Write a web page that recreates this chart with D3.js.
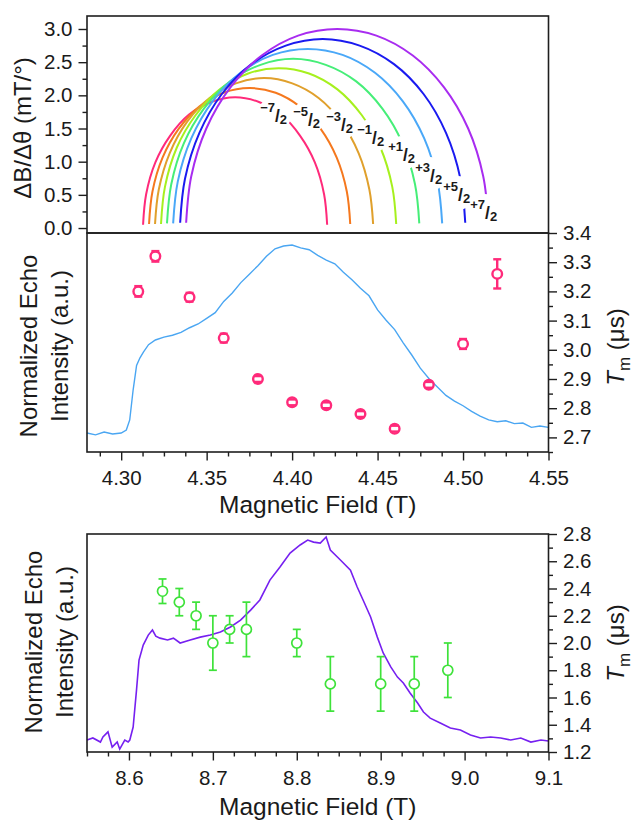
<!DOCTYPE html>
<html lang="en">
<head>
    <meta charset="UTF-8">
    <title>Angular dependence and echo-detected spectra</title>
    <script src="https://d3js.org/d3.v7.min.js"></script>
    <style>
        body {
            margin: 0;
            background: #fff;
        }
        svg text {
            font-family: Arial, "Liberation Sans", sans-serif;
            fill: #1a1a1a;
        }
    </style>
</head>
<body>
<svg id="chart" width="634" height="820"></svg>
<script>
    // ---- top panel: dB/dtheta for the eight transitions ----
    const arcLabelSign = ["\u2212", "\u2212", "\u2212", "\u2212", "+", "+", "+", "+"];
    const arcLabelNum = ["7", "5", "3", "1", "1", "3", "5", "7"];
    const arcColors = ["#ff2a7a", "#f5781e", "#e0a02c", "#a6f01e", "#46ee78", "#4aa8f8", "#1a1af0", "#a82cf0"];
    // label anchor (left edge, baseline) in field / slope units
    const labelField = [4.3813, 4.4006, 4.4199, 4.4381, 4.4562, 4.4720, 4.4884, 4.5042];
    const labelSlope = [1.598, 1.538, 1.462, 1.266, 1.010, 0.694, 0.407, 0.136];

    const arcFields = [
        [4.3128, 4.3146, 4.3200, 4.3286, 4.3397, 4.3527, 4.3667, 4.3806, 4.3936, 4.4047, 4.4133, 4.4187, 4.4205],
        [4.3163, 4.3183, 4.3242, 4.3335, 4.3457, 4.3599, 4.3752, 4.3904, 4.4046, 4.4168, 4.4261, 4.4320, 4.4340],
        [4.3198, 4.3220, 4.3284, 4.3385, 4.3517, 4.3671, 4.3836, 4.4001, 4.4155, 4.4287, 4.4389, 4.4452, 4.4474],
        [4.3233, 4.3256, 4.3325, 4.3435, 4.3577, 4.3743, 4.3921, 4.4099, 4.4265, 4.4408, 4.4517, 4.4586, 4.4609],
        [4.3268, 4.3293, 4.3367, 4.3484, 4.3637, 4.3815, 4.4006, 4.4197, 4.4375, 4.4528, 4.4645, 4.4719, 4.4744],
        [4.3304, 4.3331, 4.3410, 4.3535, 4.3698, 4.3887, 4.4091, 4.4295, 4.4485, 4.4648, 4.4773, 4.4851, 4.4878],
        [4.3345, 4.3373, 4.3457, 4.3589, 4.3762, 4.3963, 4.4179, 4.4395, 4.4596, 4.4769, 4.4901, 4.4985, 4.5013],
        [4.3380, 4.3410, 4.3498, 4.3639, 4.3822, 4.4035, 4.4264, 4.4493, 4.4706, 4.4889, 4.5030, 4.5118, 4.5148]
    ];
    const arcSlopes = [
        [0.05, 0.51, 0.99, 1.39, 1.71, 1.90, 1.97, 1.90, 1.71, 1.39, 0.99, 0.51, 0.05],
        [0.06, 0.55, 1.06, 1.49, 1.83, 2.04, 2.11, 2.04, 1.83, 1.49, 1.06, 0.55, 0.06],
        [0.06, 0.58, 1.13, 1.60, 1.96, 2.18, 2.26, 2.18, 1.96, 1.60, 1.13, 0.58, 0.06],
        [0.06, 0.62, 1.21, 1.70, 2.09, 2.33, 2.41, 2.33, 2.09, 1.70, 1.21, 0.62, 0.06],
        [0.07, 0.66, 1.28, 1.80, 2.21, 2.46, 2.55, 2.46, 2.21, 1.80, 1.28, 0.66, 0.07],
        [0.07, 0.70, 1.35, 1.91, 2.34, 2.61, 2.70, 2.61, 2.34, 1.91, 1.35, 0.70, 0.07],
        [0.08, 0.74, 1.43, 2.02, 2.47, 2.75, 2.85, 2.75, 2.47, 2.02, 1.43, 0.74, 0.08],
        [0.08, 0.78, 1.50, 2.12, 2.60, 2.90, 3.00, 2.90, 2.60, 2.12, 1.50, 0.78, 0.08]
    ];

    // ---- middle panel: echo spectrum + Tm ----
    const traceField1 = [4.280, 4.285, 4.290, 4.295, 4.300, 4.303, 4.305, 4.307, 4.309, 4.311, 4.313, 4.316,
        4.320, 4.325, 4.330, 4.335, 4.340, 4.345, 4.350, 4.355, 4.360, 4.365, 4.370, 4.375, 4.380, 4.385,
        4.390, 4.395, 4.400, 4.405, 4.410, 4.415, 4.420, 4.425, 4.430, 4.435, 4.440, 4.445, 4.450, 4.455,
        4.460, 4.465, 4.470, 4.475, 4.480, 4.485, 4.490, 4.495, 4.500, 4.505, 4.510, 4.515, 4.520, 4.525,
        4.530, 4.535, 4.540, 4.545, 4.550];
    const traceInt1 = [0.00, -0.01, 0.005, -0.005, 0.0, 0.016, 0.07, 0.23, 0.36, 0.40, 0.43, 0.47,
        0.495, 0.51, 0.52, 0.535, 0.56, 0.58, 0.61, 0.64, 0.70, 0.745, 0.80, 0.845, 0.89, 0.94,
        0.98, 0.995, 1.0, 0.985, 0.975, 0.945, 0.92, 0.90, 0.855, 0.815, 0.77, 0.73, 0.655, 0.60,
        0.55, 0.48, 0.415, 0.345, 0.29, 0.245, 0.20, 0.17, 0.145, 0.115, 0.09, 0.07, 0.06, 0.065,
        0.05, 0.053, 0.03, 0.037, 0.03];
    const tmField1 = [4.31, 4.32, 4.34, 4.36, 4.38, 4.40, 4.42, 4.44, 4.46, 4.48, 4.50, 4.52];
    const tmValue1 = [3.20, 3.32, 3.18, 3.04, 2.90, 2.82, 2.81, 2.78, 2.73, 2.88, 3.02, 3.26];
    const tmError1 = [0.018, 0.018, 0.015, 0.015, 0.01, 0.01, 0.01, 0.01, 0.01, 0.01, 0.017, 0.05];

    // ---- bottom panel: echo spectrum + Tm ----
    const traceField2 = [8.550, 8.557, 8.566, 8.569, 8.575, 8.580, 8.586, 8.589, 8.595, 8.599, 8.601, 8.605,
        8.609, 8.612, 8.617, 8.623, 8.628, 8.632, 8.637, 8.646, 8.653, 8.661, 8.673, 8.685, 8.697, 8.709,
        8.721, 8.733, 8.745, 8.756, 8.768, 8.780, 8.792, 8.804, 8.813, 8.820, 8.828, 8.835, 8.840, 8.852,
        8.864, 8.872, 8.879, 8.888, 8.896, 8.903, 8.912, 8.920, 8.927, 8.935, 8.944, 8.951, 8.959, 8.971,
        8.983, 8.995, 9.007, 9.019, 9.031, 9.043, 9.055, 9.067, 9.079, 9.091, 9.100];
    const traceInt2 = [0.00, 0.01, -0.01, 0.015, 0.04, -0.035, -0.01, -0.045, 0.00, -0.01, 0.00, 0.064,
        0.246, 0.394, 0.468, 0.517, 0.542, 0.512, 0.502, 0.493, 0.502, 0.478, 0.493, 0.507, 0.517, 0.532,
        0.557, 0.591, 0.640, 0.690, 0.788, 0.852, 0.921, 0.961, 0.985, 0.975, 0.970, 1.0, 0.936, 0.887,
        0.837, 0.754, 0.690, 0.606, 0.507, 0.429, 0.360, 0.310, 0.281, 0.232, 0.182, 0.138, 0.108, 0.084,
        0.059, 0.049, 0.025, 0.010, 0.015, 0.010, 0.000, 0.010, -0.010, 0.000, -0.005];
    const tmField2 = [8.64, 8.66, 8.68, 8.70, 8.72, 8.74, 8.80, 8.84, 8.90, 8.94, 8.98];
    const tmValue2 = [2.38, 2.30, 2.20, 2.00, 2.10, 2.10, 2.00, 1.70, 1.70, 1.70, 1.80];
    const tmError2 = [0.09, 0.10, 0.10, 0.20, 0.10, 0.20, 0.10, 0.20, 0.20, 0.20, 0.20];

    const svg = d3.select("#chart");
    const left = 87, right = 548.5;
    const panels = { top: [16, 233], mid: [233, 452], bot: [534, 752] };
    const ink = "#1e1e1e";

    const xMid = d3.scaleLinear().domain([4.28, 4.55]).range([left, right]);
    const xBot = d3.scaleLinear().domain([8.55, 9.1]).range([left, right]);
    const ySlope = d3.scaleLinear().domain([-0.075, 3.196]).range([233, 16]);
    const yInt1 = d3.scaleLinear().domain([-0.101, 1.064]).range([452, 233]);
    const yTm1 = d3.scaleLinear().domain([2.65, 3.4]).range([452, 233]);
    const yInt2 = d3.scaleLinear().domain([-0.059, 1.015]).range([752, 534]);
    const yTm2 = d3.scaleLinear().domain([1.2, 2.8]).range([752, 534]);

    // axis helper: minor ticks (no labels) + major ticks with labels
    const drawAxis = (orient, scale, pos, majors, minors, fmt) => {
        const make = orient === "left" ? d3.axisLeft : orient === "right" ? d3.axisRight : d3.axisBottom;
        const tr = orient === "bottom" ? `translate(0,${pos})` : `translate(${pos},0)`;
        svg.append("g").attr("transform", tr).attr("color", ink)
            .call(make(scale).tickValues(minors).tickSize(4.5).tickFormat(""))
            .call(g => g.select(".domain").remove())
            .selectAll("line").attr("stroke-width", 1.4);
        const ax = svg.append("g").attr("transform", tr).attr("color", ink)
            .call(make(scale).tickValues(majors).tickSize(8.5)
                .tickPadding(orient === "bottom" ? 9.5 : 6).tickFormat(d3.format(fmt)))
            .call(g => g.select(".domain").remove())
            .attr("font-size", null).attr("font-family", null);
        ax.selectAll("line").attr("stroke-width", 1.4);
        ax.selectAll("text").style("font-size", "20.5px");
    };

    const step = (a, b, s) => d3.range(Math.round((b - a) / s) + 1).map(i => +(a + i * s).toFixed(4));

    // ---- top panel ----
    const defs = svg.append("defs");
    const arcLine = d3.line().curve(d3.curveCatmullRom.alpha(0.5));

    arcFields.forEach((fields, i) => {
        // each arc is broken where its own label sits
        const cx = xMid(labelField[i]) + 14.5, cy = ySlope(labelSlope[i]) - 8;
        const m = defs.append("mask").attr("id", `gap${i}`).attr("maskUnits", "userSpaceOnUse")
            .attr("x", 0).attr("y", 0).attr("width", 634).attr("height", 820);
        m.append("rect").attr("width", 634).attr("height", 820).attr("fill", "white");
        m.append("circle").attr("cx", cx).attr("cy", cy).attr("r", 17).attr("fill", "black");

        const pts = fields.map((f, j) => [xMid(f), ySlope(arcSlopes[i][j])]);
        svg.append("path")
            .attr("d", arcLine(pts))
            .attr("fill", "none")
            .attr("stroke", arcColors[i])
            .attr("stroke-width", 2)
            .attr("mask", `url(#gap${i})`);
    });

    arcLabelNum.forEach((n, i) => {
        const t = svg.append("text")
            .attr("x", xMid(labelField[i]))
            .attr("y", ySlope(labelSlope[i]))
            .attr("font-weight", "bold")
            .style("font-size", "17.5px");
        t.append("tspan").attr("dy", -10).style("font-size", "13px").text(arcLabelSign[i]);
        t.append("tspan").style("font-size", "13px").text(n);
        t.append("tspan").attr("dy", 10).text("/");
        t.append("tspan").attr("dy", 2).style("font-size", "13px").text("2");
    });

    drawAxis("left", ySlope, left, step(0, 3, 0.5), step(0.25, 2.75, 0.5), ".1f");

    svg.append("text")
        .attr("transform", `translate(31,128) rotate(-90)`)
        .attr("text-anchor", "middle")
        .style("font-size", "24px")
        .text("\u0394B/\u0394\u03b8 (mT/\u00b0)");

    // ---- middle panel ----
    svg.append("path")
        .datum(traceField1.map((f, i) => [xMid(f), yInt1(traceInt1[i])]))
        .attr("d", d3.line())
        .attr("fill", "none")
        .attr("stroke", "#4aa6f2")
        .attr("stroke-width", 1.4);

    // hollow circles, error bars stop at the circle edge
    const drawPoints = (fields, vals, errs, xs, ys, color, r, sw, bw) => {
        const g = svg.append("g").attr("stroke", color).attr("fill", "none").attr("stroke-width", sw);
        fields.forEach((f, i) => {
            const x = xs(f), y = ys(vals[i]);
            const yHi = ys(vals[i] + errs[i]), yLo = ys(vals[i] - errs[i]);
            if (y - yHi > r) g.append("line").attr("x1", x).attr("x2", x).attr("y1", yHi).attr("y2", y - r);
            if (yLo - y > r) g.append("line").attr("x1", x).attr("x2", x).attr("y1", y + r).attr("y2", yLo);
            g.append("line").attr("x1", x - bw).attr("x2", x + bw).attr("y1", yHi).attr("y2", yHi);
            g.append("line").attr("x1", x - bw).attr("x2", x + bw).attr("y1", yLo).attr("y2", yLo);
            g.append("circle").attr("cx", x).attr("cy", y).attr("r", r);
        });
    };

    drawPoints(tmField1, tmValue1, tmError1, xMid, yTm1, "#ff2a7a", 4.8, 2.4, 4);

    drawAxis("bottom", xMid, 452, step(4.30, 4.55, 0.05),
        step(4.2875, 4.5375, 0.0125).filter(v => Math.abs(v * 20 - Math.round(v * 20)) > 1e-6), ".2f");
    drawAxis("right", yTm1, right, step(2.7, 3.4, 0.1), step(2.65, 3.35, 0.1), ".1f");

    // ---- bottom panel ----
    svg.append("path")
        .datum(traceField2.map((f, i) => [xBot(f), yInt2(traceInt2[i])]))
        .attr("d", d3.line())
        .attr("fill", "none")
        .attr("stroke", "#7620f0")
        .attr("stroke-width", 1.6);

    drawPoints(tmField2, tmValue2, tmError2, xBot, yTm2, "#3ee23a", 5, 1.7, 4);

    drawAxis("bottom", xBot, 752, step(8.6, 9.1, 0.1),
        step(8.55, 9.075, 0.025).filter(v => Math.abs(v * 10 - Math.round(v * 10)) > 1e-6), ".1f");
    drawAxis("right", yTm2, right, step(1.2, 2.8, 0.2), step(1.3, 2.7, 0.2), ".1f");

    // frames
    Object.values(panels).forEach(([y0, y1]) => {
        svg.append("rect")
            .attr("x", left).attr("y", y0)
            .attr("width", right - left).attr("height", y1 - y0)
            .attr("fill", "none").attr("stroke", ink).attr("stroke-width", 1.6);
    });

    // axis titles
    const xTitle = (y) => svg.append("text")
        .attr("x", (left + right) / 2).attr("y", y)
        .attr("text-anchor", "middle")
        .style("font-size", "24.5px")
        .text("Magnetic Field (T)");
    xTitle(513);
    xTitle(815);

    const leftTitle = (x1, x2, cy) => {
        [["Normalized Echo", x1], ["Intensity (a.u.)", x2]].forEach(([s, x]) => {
            svg.append("text")
                .attr("transform", `translate(${x},${cy}) rotate(-90)`)
                .attr("text-anchor", "middle")
                .style("font-size", "24px")
                .text(s);
        });
    };
    leftTitle(37, 68, 346);
    leftTitle(42, 73, 642);

    const tmTitle = (cy) => {
        const t = svg.append("text")
            .attr("transform", `translate(624,${cy}) rotate(-90)`)
            .attr("text-anchor", "middle")
            .style("font-size", "24px");
        t.append("tspan").style("font-style", "italic").text("T");
        t.append("tspan").attr("dy", 6).style("font-size", "17px").text("m");
        t.append("tspan").attr("dy", -6).text(" (\u03bcs)");
    };
    tmTitle(347);
    tmTitle(643);
</script>
</body>
</html>
